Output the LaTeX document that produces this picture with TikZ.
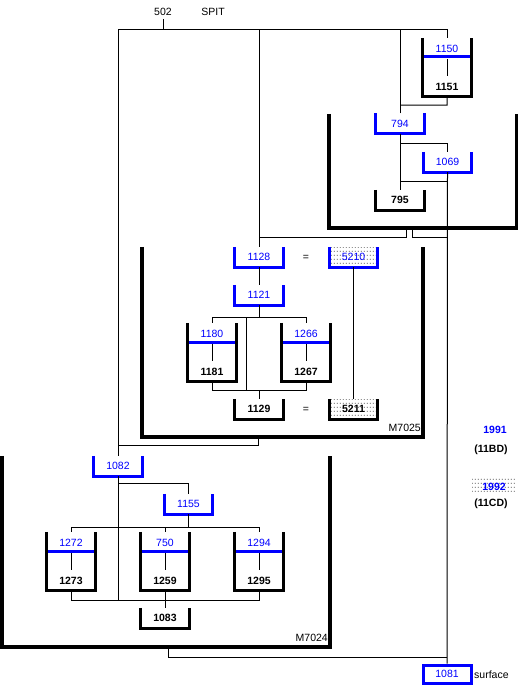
\documentclass[tikz,border=0pt]{standalone}
\usepackage{fontspec}
\setmainfont{Liberation Sans}
\usetikzlibrary{patterns}
\pgfdeclarepatternformonly{sparsedots}{\pgfqpoint{0pt}{0pt}}{\pgfqpoint{3pt}{4pt}}{\pgfqpoint{3pt}{4pt}}{\pgfpathrectangle{\pgfqpoint{1pt}{1.5pt}}{\pgfqpoint{1pt}{1pt}}\pgfusepath{fill}}
\begin{document}
\begin{tikzpicture}[x=1pt,y=-1pt,
  every node/.style={font=\fontsize{10.5}{12}\selectfont, inner sep=0pt},
  conn/.style={line width=1pt, black},
  ubox/.style={minimum width=48pt, minimum height=20pt},
  beaker/.style={minimum width=48pt, minimum height=58pt},
  wallk/.style={line width=3pt, black},
  wallb/.style={line width=3pt, blue},
  cont/.style={line width=3.5pt, black},
  bl/.style={text=blue},
  bk/.style={font=\fontsize{10.5}{12}\selectfont\bfseries},
  dotfill/.style={pattern=sparsedots, pattern color=black},
]
\useasboundingbox (0,0) rectangle (518,685);
\coordinate (bus) at (0,30);

% containers
\node[minimum width=188pt, minimum height=114pt] (cM) at (423,171) {};
\node[minimum width=281pt, minimum height=190pt] (c7025) at (282.5,342) {};
\node[minimum width=328pt, minimum height=191pt] (c7024) at (166,551.5) {};
\foreach \c in {cM,c7025,c7024}
  \draw[cont] (\c.north west) -- (\c.south west) -- (\c.south east) -- (\c.north east);
\node[anchor=east] (l7025) at (421,428) {M7025};
\node[anchor=east] (l7024) at (328,638) {M7024};

% top labels
\node (t502) at (163,12) {502};
\node (tspit) at (213,12) {SPIT};

% simple U boxes
\node[ubox, bl] (b794) at (400,123.5) {794};
\node[ubox, bl] (b1069) at (447.5,162) {1069};
\node[ubox, bk] (b795) at (400,200) {795};
\node[ubox, bl] (b1128) at (259,257) {1128};
\node[ubox, bl, dotfill] (b5210) at (353.5,257) {5210};
\node[ubox, bl] (b1121) at (259,295) {1121};
\node[ubox, bk] (b1129) at (259,409) {1129};
\node[ubox, bk, dotfill] (b5211) at (353.5,409) {5211};
\node[ubox, bl] (b1082) at (118,466) {1082};
\node[ubox, bl] (b1155) at (188.5,504) {1155};
\node[ubox, bk] (b1083) at (165,618) {1083};
\foreach \n in {b794,b1069,b1128,b5210,b1121,b1082,b1155}
  \draw[wallb] (\n.north west) -- (\n.south west) -- (\n.south east) -- (\n.north east);
\foreach \n in {b795,b1129,b5211,b1083}
  \draw[wallk] (\n.north west) -- (\n.south west) -- (\n.south east) -- (\n.north east);
\node (eq1) at (306,258) {=};
\node (eq2) at (306,410) {=};

% beakers
\node[beaker] (p1151) at (447,67) {};
\node[beaker] (p1181) at (212,352) {};
\node[beaker] (p1267) at (306,352) {};
\node[beaker] (p1273) at (71,561) {};
\node[beaker] (p1259) at (165,561) {};
\node[beaker] (p1295) at (259,561) {};
\foreach \p/\a/\b in {p1151/1150/1151, p1181/1180/1181, p1267/1266/1267,
                      p1273/1272/1273, p1259/750/1259, p1295/1294/1295} {
  \draw[wallk] (\p.north west) -- (\p.south west) -- (\p.south east) -- (\p.north east);
  \draw[wallb] ([xshift=1.5pt,yshift=10pt]\p.west) -- ([xshift=-1.5pt,yshift=10pt]\p.east);
  \node[bl] (t\a) at ([yshift=18.5pt]\p.center) {\a};
  \node[bk] (t\b) at ([yshift=-20pt]\p.center) {\b};
  \draw[conn] ([yshift=8pt]\p.center) -- ([yshift=-8.5pt]\p.center);
}

% surface box
\node[ubox, minimum height=18pt, draw=blue, line width=3pt, bl] (b1081) at (447,674) {1081};
\node[anchor=west] (tsurf) at (474,675) {surface};

% legend
\node[bk, text=blue] (t1991) at (495,430) {1991};
\node[bk] (t11BD) at (491,450) {(11BD)};
\node[dotfill, minimum width=43pt, minimum height=15pt] (b1992) at (493.5,484.5) {};
\node[bk, text=blue] (t1992) at (494,487) {1992};
\node[bk] (t11CD) at (491,504) {(11CD)};

% connectors
\draw[conn] ([yshift=-3pt]t502.south) -- (t502.south |- bus);
\draw[conn] (b1082.north) -- (b1082.north |- bus) -- (p1151.north |- bus) -- (p1151.north);
\draw[conn] (b1128.north) -- (b1128.north |- bus);
\draw[conn] (b794.north) -- (b794.north |- bus);
\draw[conn] (p1151.south) -- ++(0,9) -- (b794.north |- 0,105);
\draw[conn] (b794.south) -- (b795.north);
\draw[conn] (b794.south |- 0,143) -| (b1069.north);
\draw[conn] (b794.south |- 0,181) -- (b1069.south |- 0,181);
\draw[conn] (b1069.south) -- (b1081.north);
\draw[conn] (cM.south -| 406,0) |- (b1128.north |- 0,237);
\draw[conn] (cM.south -| 412,0) |- (b1069.south |- 0,237);
\draw[conn] (b1128.south) -- (b1121.north);
\draw[conn] (b1121.south) -- (b1121.south |- 0,317);
\draw[conn] (p1181.north) |- (p1267.north |- 0,317) -- (p1267.north);
\draw[conn] (246,317) -- (246,390);
\draw[conn] (p1181.south) |- (p1267.south |- 0,390) -- (p1267.south);
\draw[conn] (b1129.north) -- (b1129.north |- 0,390);
\draw[conn] (b5210.south) -- (b5211.north);
\draw[conn] (c7025.south -| 258,0) |- (b1082.north |- 0,445);
\draw[conn] (b1082.south) -- (b1082.south |- 0,600);
\draw[conn] (b1082.south |- 0,483) -| (b1155.north);
\draw[conn] (b1155.south) -- (b1155.south |- 0,527);
\draw[conn] (p1273.north) |- (p1295.north |- 0,527) -- (p1295.north);
\draw[conn] (p1259.north) -- (p1259.north |- 0,527);
\draw[conn] (p1273.south) |- (p1295.south |- 0,600) -- (p1295.south);
\draw[conn] (p1259.south) -- (b1083.north);
\draw[conn] (c7024.south -| 168,0) |- (b1081.north |- 0,657);
\end{tikzpicture}
\end{document}
